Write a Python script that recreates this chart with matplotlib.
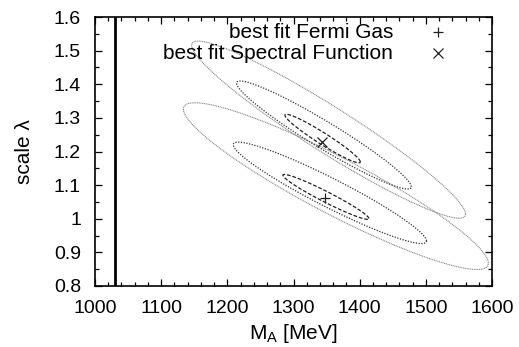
import numpy as np
import matplotlib
matplotlib.use("Agg")
import matplotlib.pyplot as plt
from matplotlib.ticker import MultipleLocator

plt.rcParams['font.family'] = ['Liberation Sans', 'DejaVu Sans']

# Best-fit points
fit_labels = ["best fit Fermi Gas", "best fit Spectral Function"]
fit_markers = ["+", "x"]
fit_MA = [1347, 1343]
fit_lambda = [1.063, 1.229]

# Confidence contours (per fit: inner, middle, outer), ellipse parameters
# center, half-extent in M_A, half-extent in lambda, correlation
fg_cx = [1349, 1355, 1364]
fg_cy = [1.065, 1.077, 1.097]
fg_ax = [65, 146, 230.5]
fg_by = [0.0667, 0.1508, 0.2479]
fg_rho = [-0.965, -0.948, -0.924]

sf_cx = [1344, 1346, 1353]
sf_cy = [1.2385, 1.249, 1.265]
sf_ax = [57, 132, 207]
sf_by = [0.0723, 0.1607, 0.2634]
sf_rho = [-0.961, -0.958, -0.953]

vline_MA = 1030

xticks = [1000, 1100, 1200, 1300, 1400, 1500, 1600]
yticks = [0.8, 0.9, 1.0, 1.1, 1.2, 1.3, 1.4, 1.5, 1.6]
ytick_labels = ["0.8", "0.9", "1", "1.1", "1.2", "1.3", "1.4", "1.5", "1.6"]

level_styles = [
    dict(color="#222222", linestyle=(0, (3.0, 1.5)), linewidth=0.9),
    dict(color="#333333", linestyle=(0, (1.0, 1.2)), linewidth=0.9),
    dict(color="#8c8c8c", linestyle=(0, (1.0, 0.6)), linewidth=0.8),
]

fig = plt.figure(figsize=(5.19, 3.47), dpi=100)
ax = fig.add_axes([95/519, 1-286/347, (492-95)/519, (286-17)/347])

t = np.linspace(0, 2*np.pi, 400)
for cx, cy, a, b, r in [(fg_cx, fg_cy, fg_ax, fg_by, fg_rho),
                        (sf_cx, sf_cy, sf_ax, sf_by, sf_rho)]:
    for i in range(3):
        x = cx[i] + a[i]*np.cos(t)
        y = cy[i] + b[i]*(r[i]*np.cos(t) + np.sqrt(1-r[i]**2)*np.sin(t))
        ax.plot(x, y, **level_styles[i])

ax.axvline(vline_MA, color="black", linewidth=2.0)

for mx, my, m in zip(fit_MA, fit_lambda, fit_markers):
    ax.plot(mx, my, marker=m, color="#222222", markersize=7, mew=0.9, linestyle="none")

# legend (gnuplot style)
for i, (lab, m) in enumerate(zip(fit_labels, fit_markers)):
    yy = 0.944 - i*0.078
    ax.text(0.751, yy, lab, transform=ax.transAxes, ha="right", va="center", fontsize=15)
    ax.plot([0.864], [yy], marker=m, color="#222222", markersize=7, mew=0.9,
            transform=ax.transAxes, linestyle="none")

ax.set_xlim(1000, 1600)
ax.set_ylim(0.8, 1.6)
ax.set_xticks(xticks)
ax.set_xticklabels([str(v) for v in xticks])
ax.set_yticks(yticks)
ax.set_yticklabels(ytick_labels)
ax.xaxis.set_minor_locator(MultipleLocator(20))
ax.yaxis.set_minor_locator(MultipleLocator(0.05))
ax.tick_params(which="both", direction="in", top=True, right=True, labelsize=14, width=0.9)
ax.tick_params(which="major", length=5)
ax.tick_params(which="minor", length=3)
ax.tick_params(axis="x", which="major", pad=10)
ax.tick_params(axis="y", which="major", pad=10)
for s in ax.spines.values():
    s.set_linewidth(1.2)

ax.set_xlabel("M$_\\mathregular{A}$ [MeV]", fontsize=15, labelpad=4)
ax.set_ylabel("scale λ", fontsize=15, labelpad=14)

fig.savefig("out.png", dpi=100)
